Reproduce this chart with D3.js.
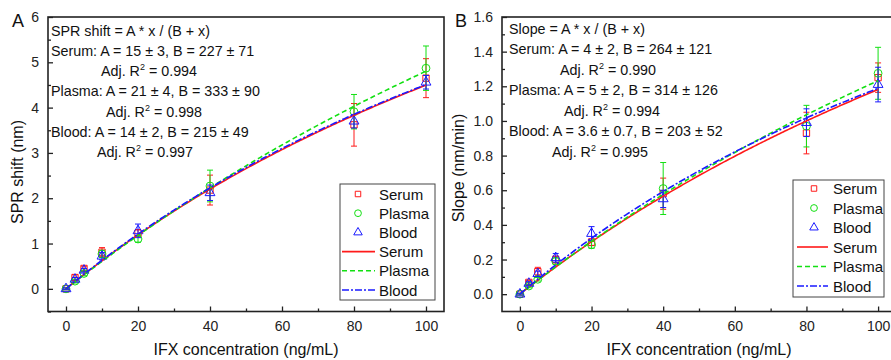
<!DOCTYPE html>
<html>
<head>
<meta charset="utf-8">
<script src="https://cdn.jsdelivr.net/npm/d3@7"></script>
<style>
  html, body { margin: 0; padding: 0; background: #fff; }
  svg { display: block; font-family: "Liberation Sans", Arial, sans-serif; }
</style>
</head>
<body>
<svg id="chart" width="891" height="360"></svg>
<script>
// IFX concentrations (ng/mL)
const conc = [0, 2.5, 5, 10, 20, 40, 80, 100];
const seriesNames = ["Serum", "Plasma", "Blood"];

// Panel A: SPR shift (nm), mean and error
const shiftSerum = [0, 0.25, 0.45, 0.81, 1.23, 2.18, 3.62, 4.65];
const shiftSerumErr = [0.02, 0.06, 0.05, 0.10, 0.08, 0.33, 0.47, 0.43];
const shiftPlasma = [0, 0.17, 0.34, 0.77, 1.10, 2.27, 3.91, 4.87];
const shiftPlasmaErr = [0.02, 0.04, 0.05, 0.08, 0.07, 0.35, 0.38, 0.49];
const shiftBlood = [0, 0.21, 0.41, 0.72, 1.28, 2.12, 3.70, 4.56];
const shiftBloodErr = [0.02, 0.04, 0.04, 0.08, 0.15, 0.17, 0.15, 0.15];

// Panel A: hyperbolic fit y = A*x/(B+x)
const shiftA = [14.7, 20.8, 14.2];
const shiftAErr = [3, 4, 2];
const shiftB = [227, 333, 215];
const shiftBErr = [71, 90, 49];
const shiftR2 = ["0.994", "0.998", "0.997"];

// Panel B: slope (nm/min), mean and error
const slopeSerum = [0, 0.068, 0.13, 0.20, 0.30, 0.58, 0.93, 1.25];
const slopeSerumErr = [0.005, 0.01, 0.025, 0.02, 0.02, 0.09, 0.12, 0.085];
const slopePlasma = [0, 0.047, 0.086, 0.19, 0.285, 0.61, 0.97, 1.275];
const slopePlasmaErr = [0.005, 0.01, 0.01, 0.02, 0.02, 0.15, 0.12, 0.15];
const slopeBlood = [0, 0.062, 0.118, 0.21, 0.35, 0.55, 0.99, 1.21];
const slopeBloodErr = [0.005, 0.01, 0.015, 0.025, 0.04, 0.05, 0.08, 0.10];

// Panel B: hyperbolic fit
const slopeA = [4.3, 5.1, 3.6];
const slopeAErr = [2, 2, 0.7];
const slopeB = [264, 314, 203];
const slopeBErr = [121, 126, 52];
const slopeR2 = ["0.990", "0.994", "0.995"];

// Axis ticks
const xTicks = [0, 20, 40, 60, 80, 100];
const shiftTicks = [0, 1, 2, 3, 4, 5, 6];
const slopeTicks = [0, 0.2, 0.4, 0.6, 0.8, 1.0, 1.2, 1.4, 1.6];

const colors = ["#ff1a1a", "#12e012", "#1a1aff"];
const dashes = [null, "5,3", "7,2,2,2"];
const symbols = [d3.symbolSquare, d3.symbolCircle, d3.symbolTriangle];
const symbolSizes = [40, 48, 42];

const svg = d3.select("#chart");
svg.append("rect").attr("width", 891).attr("height", 360).attr("fill", "#fff");

const decimals = v => (String(v).split(".")[1] || "").length;

function drawPanel(cfg) {
  const g = svg.append("g");
  const x = d3.scaleLinear().domain([-5, 105]).range([cfg.left, cfg.right]);
  const y = d3.scaleLinear().domain(cfg.yDomain).range([311.5, 17]);

  // clip for plot content
  const clipId = "clip-" + cfg.tag;
  svg.append("clipPath").attr("id", clipId)
    .append("rect").attr("x", cfg.left).attr("y", 17)
    .attr("width", cfg.right - cfg.left).attr("height", 311.5 - 17);

  // axes (inward ticks)
  const xAxis = d3.axisBottom(x).tickValues(xTicks).tickSizeInner(-5).tickSizeOuter(0).tickPadding(10);
  const xMinor = d3.axisBottom(x).tickValues(d3.range(10, 100, 20)).tickSizeInner(-3).tickSizeOuter(0).tickFormat("");
  const yAxis = d3.axisLeft(y).tickValues(cfg.yTicks).tickSizeInner(-5).tickSizeOuter(0).tickPadding(9).tickFormat(cfg.yFormat);
  const yMinor = d3.axisLeft(y).tickValues(cfg.yMinor).tickSizeInner(-3).tickSizeOuter(0).tickFormat("");

  const axG = [
    g.append("g").attr("transform", `translate(0,311.5)`).call(xAxis),
    g.append("g").attr("transform", `translate(0,311.5)`).call(xMinor),
    g.append("g").attr("transform", `translate(${cfg.left},0)`).call(yAxis),
    g.append("g").attr("transform", `translate(${cfg.left},0)`).call(yMinor)
  ];
  axG.forEach(a => {
    a.select(".domain").remove();
    a.selectAll("line").attr("stroke", "#222").attr("stroke-width", 1.3);
    a.selectAll("text").attr("fill", "#222").style("font-size", "14px")
      .style("font-family", '"Liberation Sans", Arial, sans-serif');
  });

  // frame
  g.append("rect").attr("x", cfg.left).attr("y", 17)
    .attr("width", cfg.right - cfg.left).attr("height", 311.5 - 17)
    .attr("fill", "none").attr("stroke", "#222").attr("stroke-width", 1.6);

  const plot = g.append("g").attr("clip-path", `url(#${clipId})`);

  // data points with error bars
  cfg.series.forEach((s, i) => {
    const sg = plot.append("g").attr("stroke", colors[i]).attr("fill", "none").attr("stroke-width", 1);
    conc.forEach((c, j) => {
      const cx = x(c);
      const y1 = y(s.values[j] + s.errors[j]);
      const y0 = y(s.values[j] - s.errors[j]);
      sg.append("line").attr("x1", cx).attr("x2", cx).attr("y1", y1).attr("y2", y0);
      sg.append("line").attr("x1", cx - 3).attr("x2", cx + 3).attr("y1", y1).attr("y2", y1);
      sg.append("line").attr("x1", cx - 3).attr("x2", cx + 3).attr("y1", y0).attr("y2", y0);
      sg.append("path").attr("d", d3.symbol(symbols[i], symbolSizes[i])())
        .attr("transform", `translate(${cx},${y(s.values[j])})`);
    });
  });

  // fitted curves
  const xs = d3.range(0, 100.001, 0.5);
  const line = d3.line().x(d => x(d[0])).y(d => y(d[1]));
  cfg.series.forEach((s, i) => {
    const pts = xs.map(v => [v, s.A * v / (s.B + v)]);
    plot.append("path").attr("d", line(pts))
      .attr("fill", "none").attr("stroke", colors[i]).attr("stroke-width", 1.6)
      .attr("stroke-dasharray", dashes[i]);
  });

  // fit annotation
  const ann = g.append("g").attr("fill", "#111").style("font-size", "14.3px");
  ann.append("text").attr("x", cfg.annX).attr("y", cfg.annY0).text(cfg.equation);
  cfg.series.forEach((s, i) => {
    const yl = cfg.annY0 + cfg.annDy * (1 + 2 * i);
    const dA = decimals(s.AErr);
    ann.append("text").attr("x", cfg.annX).attr("y", yl)
      .text(`${seriesNames[i]}: A = ${s.A.toFixed(dA)} \u00b1 ${s.AErr}, B = ${s.B} \u00b1 ${s.BErr}`);
    const t = ann.append("text").attr("x", cfg.annAdjX[i]).attr("y", yl + cfg.annDy);
    t.append("tspan").text("Adj. R");
    t.append("tspan").attr("dy", -6).style("font-size", "9px").text("2");
    t.append("tspan").attr("dy", 6).text(` = ${s.r2}`);
  });

  // legend
  const L = cfg.legend;
  const lg = g.append("g");
  lg.append("rect").attr("x", L.x0).attr("y", L.y0).attr("width", L.x1 - L.x0).attr("height", L.y1 - L.y0)
    .attr("fill", "#fff").attr("stroke", "#444").attr("stroke-width", 1);
  const rowY = k => L.rowY0 + k * L.rowDy;
  seriesNames.forEach((n, i) => {
    lg.append("path").attr("d", d3.symbol(symbols[i], symbolSizes[i] * 0.75)())
      .attr("transform", `translate(${L.symX},${rowY(i)})`)
      .attr("fill", "none").attr("stroke", colors[i]).attr("stroke-width", 1);
    lg.append("text").attr("x", L.textX).attr("y", rowY(i) + 5.5).style("font-size", "15px").attr("fill", "#111").text(n);
    lg.append("line").attr("x1", L.lineX0).attr("x2", L.lineX1).attr("y1", rowY(i + 3)).attr("y2", rowY(i + 3))
      .attr("stroke", colors[i]).attr("stroke-width", 1.6).attr("stroke-dasharray", dashes[i]);
    lg.append("text").attr("x", L.textX).attr("y", rowY(i + 3) + 5.5).style("font-size", "15px").attr("fill", "#111").text(n);
  });

  // titles
  g.append("text").attr("x", (x(0) + x(100)) / 2).attr("y", 355).attr("text-anchor", "middle")
    .style("font-size", "16px").attr("fill", "#111").text("IFX concentration (ng/mL)");
  g.append("text").attr("transform", `translate(${cfg.yTitleX},${cfg.yTitleY}) rotate(-90)`)
    .attr("text-anchor", "middle").style("font-size", "16px").attr("fill", "#111").text(cfg.yTitle);
  g.append("text").attr("x", cfg.panelX).attr("y", 27).style("font-size", "18px").attr("fill", "#111").text(cfg.panel);
}

drawPanel({
  tag: "a", panel: "A", panelX: 12,
  left: 48, right: 444,
  yDomain: [-0.5, 6], yTicks: shiftTicks, yMinor: d3.range(-0.5, 6, 1), yFormat: d3.format("d"),
  yTitle: "SPR shift (nm)", yTitleX: 22.5, yTitleY: 172,
  equation: "SPR shift = A * x / (B + x)",
  annX: 51, annY0: 35.5, annDy: 20.3, annAdjX: [101, 106, 97],
  series: [0, 1, 2].map(i => ({
    values: [shiftSerum, shiftPlasma, shiftBlood][i],
    errors: [shiftSerumErr, shiftPlasmaErr, shiftBloodErr][i],
    A: shiftA[i], AErr: shiftAErr[i], B: shiftB[i], BErr: shiftBErr[i], r2: shiftR2[i]
  })),
  legend: { x0: 340, x1: 435, y0: 184, y1: 300, rowY0: 194, rowDy: 19.2, symX: 358, lineX0: 342, lineX1: 375, textX: 379 }
});

drawPanel({
  tag: "b", panel: "B", panelX: 455,
  left: 502, right: 896,
  yDomain: [-0.1, 1.6], yTicks: slopeTicks, yMinor: d3.range(0.1, 1.6, 0.2), yFormat: d3.format(".1f"),
  yTitle: "Slope (nm/min)", yTitleX: 464, yTitleY: 168,
  equation: "Slope = A * x / (B + x)",
  annX: 509, annY0: 33.5, annDy: 20.5, annAdjX: [560, 564, 552],
  series: [0, 1, 2].map(i => ({
    values: [slopeSerum, slopePlasma, slopeBlood][i],
    errors: [slopeSerumErr, slopePlasmaErr, slopeBloodErr][i],
    A: slopeA[i], AErr: slopeAErr[i], B: slopeB[i], BErr: slopeBErr[i], r2: slopeR2[i]
  })),
  legend: { x0: 793, x1: 884, y0: 180, y1: 297, rowY0: 188.5, rowDy: 19.5, symX: 814, lineX0: 797, lineX1: 828, textX: 833 }
});
</script>
</body>
</html>
